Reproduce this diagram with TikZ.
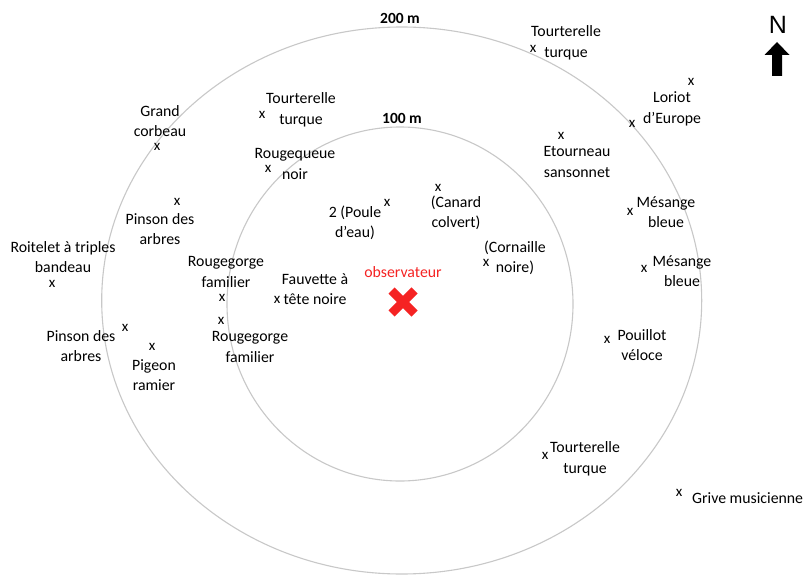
\documentclass[tikz,border=0pt]{standalone}
\usepackage{fontspec}
\setmainfont{Carlito}
\newfontfamily\arrowfont{Liberation Sans}
\usepackage{xcolor}
\definecolor{ringgray}{RGB}{200,200,200}
\definecolor{obsred}{RGB}{245,35,35}

\begin{document}
\begin{tikzpicture}[x=1pt, y=-1pt,
		bird/.style = {align=center, inner sep=0pt, font=\fontsize{15.8}{20.5}\selectfont},
		spot/.style = {inner sep=0pt, font=\fontsize{15}{20.5}\selectfont},
		ring/.style = {ringgray, line width=1.1pt},
		dist/.style = {inner sep=0pt, font=\fontsize{15.5}{17}\selectfont\bfseries}]
	\useasboundingbox (0,0) rectangle (805,575);
	\fill[white] (0,0) rectangle (805,575);

	\draw[ring] (401.7,300.5) ellipse [x radius=300, y radius=273.5];
	\draw[ring] (400,304) ellipse [x radius=173, y radius=177];
	\node[dist] (d200) at (400,18) {200 m};
	\node[dist] (d100) at (402,118) {100 m};

	\begin{scope}[obsred]
		\draw[line width=8.5pt] (391.5,290.5) -- (414.5,313.5);
		\draw[line width=8.5pt] (391.5,313.5) -- (414.5,290.5);
		\node[bird] (obs) at (403,272) {observateur};
	\end{scope}

	\node[font=\arrowfont\fontsize{25}{25}\selectfont, inner sep=0pt] (nord) at (778,25) {N};
	\fill (777,42) -- (789.5,55) -- (782,55) -- (782,76) -- (772,76) -- (772,55) -- (764.5,55) -- cycle;

	\node[bird] (tt1) at (566,43) {Tourterelle\\turque};
	\node[spot] (tt1x) at (533,49) {x};
	\node[bird] (tt2) at (301,110) {Tourterelle\\turque};
	\node[spot] (tt2x) at (262,115) {x};
	\node[bird] (tt3) at (585,459) {Tourterelle\\turque};
	\node[spot] (tt3x) at (545,456) {x};

	\node[bird] (grc) at (160,121) {Grand\\corbeau};
	\node[spot] (grcx) at (157,147) {x};
	\node[bird] (rqn) at (295,164) {Rougequeue\\noir};
	\node[spot] (rqnx) at (268,169) {x};
	\node[bird] (pda1) at (160,229) {Pinson des\\arbres};
	\node[spot] (pda1x) at (177,202) {x};
	\node[bird] (pda2) at (81,346) {Pinson des\\arbres};
	\node[spot] (pda2x) at (125,328) {x};
	\node[bird] (pdo) at (355,223) {2 (Poule\\d’eau)};
	\node[spot] (pdox) at (387,203) {x};
	\node[bird] (rtb) at (63,257) {Roitelet à triples\\bandeau};
	\node[spot] (rtbx) at (52,284) {x};
	\node[bird] (rgf1) at (226,272) {Rougegorge\\familier};
	\node[spot] (rgf1x) at (222,298) {x};
	\node[bird] (rgf2) at (250,347) {Rougegorge\\familier};
	\node[spot] (rgf2x) at (221,321) {x};
	\node[bird] (ftn) at (315,289) {Fauvette à\\tête noire};
	\node[spot] (ftnx) at (277,300) {x};
	\node[bird] (prm) at (154,375) {Pigeon\\ramier};
	\node[spot] (prmx) at (152,347) {x};

	\node[bird] (lde) at (672,109) {Loriot\\d’Europe};
	\node[spot] (ldex1) at (691,82) {x};
	\node[spot] (ldex2) at (632,124) {x};
	\node[bird] (ets) at (577,162) {Etourneau\\sansonnet};
	\node[spot] (etsx) at (561,136) {x};
	\node[bird] (ccv) at (456,213) {(Canard\\colvert)};
	\node[spot] (ccvx) at (438,188) {x};
	\node[bird] (cno) at (515,258) {(Cornaille\\noire)};
	\node[spot] (cnox) at (486,263) {x};
	\node[bird] (mb1) at (666,212) {Mésange\\bleue};
	\node[spot] (mb1x) at (630,212) {x};
	\node[bird] (mb2) at (682,271) {Mésange\\bleue};
	\node[spot] (mb2x) at (644,269) {x};
	\node[bird] (pvl) at (642,345) {Pouillot\\véloce};
	\node[spot] (pvlx) at (607,340) {x};
	\node[bird, anchor=west] (grm) at (692,498) {Grive musicienne};
	\node[spot] (grmx) at (679,493) {x};
\end{tikzpicture}
\end{document}
